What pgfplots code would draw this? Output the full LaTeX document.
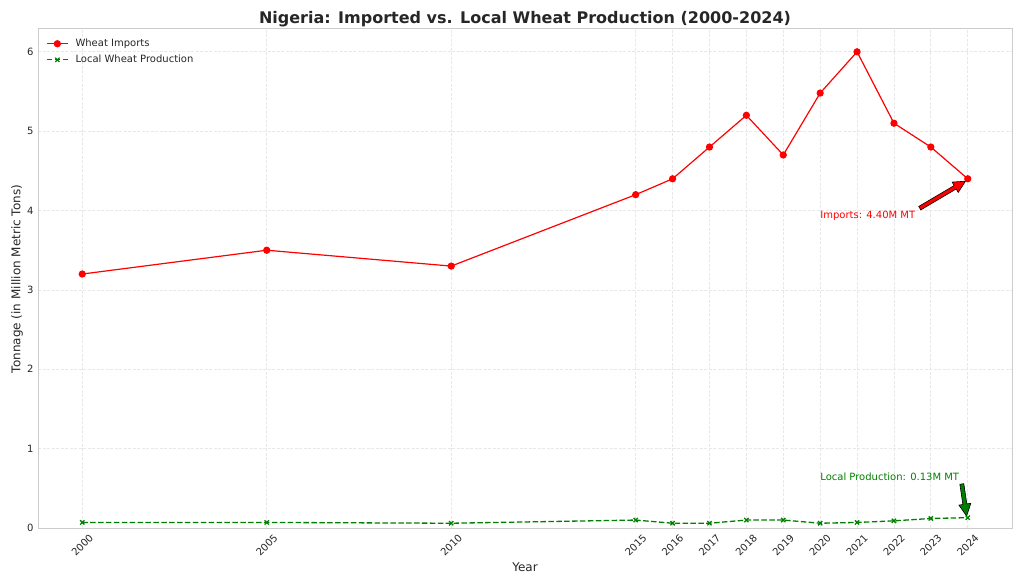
\documentclass[border=0pt]{standalone}
\usepackage{pgfplots}
\pgfplotsset{compat=1.18}
\usepackage{fontspec}
\setmainfont{DejaVu Sans}
\usetikzlibrary{arrows.meta,calc}
\definecolor{txt}{HTML}{262626}
\definecolor{gridc}{HTML}{E8E8E8}
\definecolor{framec}{HTML}{CCCCCC}
\definecolor{lgreen}{HTML}{008000}

\pgfplotstableread{
year imp loc
2000 3.20 0.07
2005 3.50 0.07
2010 3.30 0.06
2015 4.20 0.10
2016 4.40 0.06
2017 4.80 0.06
2018 5.20 0.10
2019 4.70 0.10
2020 5.48 0.06
2021 6.00 0.07
2022 5.10 0.09
2023 4.80 0.12
2024 4.40 0.13
}\datatab

\begin{document}
\begin{tikzpicture}[x=1pt,y=1pt]
\path (0,0) rectangle (1024,585);
\begin{axis}[
  at={(38pt,57pt)}, anchor=south west,
  scale only axis, width=974pt, height=500pt,
  xmin=1998.8, xmax=2025.2, ymin=0, ymax=6.3,
  xtick={2000,2005,2010,2015,2016,2017,2018,2019,2020,2021,2022,2023,2024},
  ytick={0,1,2,3,4,5,6},
  /pgf/number format/1000 sep={},
  /pgf/number format/assume math mode=true,
  major tick length=0pt,
  axis line style={framec, line width=0.8pt},
  grid=major,
  grid style={gridc, dash pattern=on 3pt off 1.5pt, line width=0.8pt},
  ticklabel style={font=\fontsize{10}{12}\selectfont, text=txt},
  xticklabel style={rotate=45, anchor=center, xshift=-12pt, yshift=-12pt},
  yticklabel style={anchor=east, xshift=-1pt},
  legend style={at={(axis description cs:0,1)}, anchor=north west,
    xshift=5pt, yshift=-7pt, draw=none, fill=none,
    font=\fontsize{10}{12}\selectfont, text=txt, row sep=3pt, column sep=5pt},
  legend cell align=left,
  legend image code/.code={
    \draw[mark repeat=2, mark phase=2, #1] plot coordinates {(0pt,0pt) (10.5pt,0pt) (21pt,0pt)};
  },
]
\addplot[red, line width=1.2pt, mark=*, mark size=3pt, mark options={solid, fill=red}]
  table[x=year, y=imp] {\datatab};
\addlegendentry{Wheat Imports}
\addplot[lgreen, line width=1.3pt, dash pattern=on 5.5pt off 2.4pt, mark=x, mark size=3pt, mark options={solid}]
  table[x=year, y=loc] {\datatab};
\addlegendentry{Local Wheat Production}

\node[anchor=base west, inner xsep=0pt, text=red, font=\fontsize{10}{12}\selectfont] at (axis cs:2020,3.9) {Imports: 4.40M MT};
\node[anchor=base west, inner xsep=0pt, text=lgreen, font=\fontsize{10}{12}\selectfont] at (axis cs:2020,0.6) {Local Production: 0.13M MT};

% red arrow
\coordinate (rA) at (axis cs:2022.70,4.03);
\coordinate (rB) at (axis cs:2023.94,4.37);
\coordinate (rH) at ($(rB)!12pt!(rA)$);
\fill[red, draw=black, line width=0.6pt]
  ($(rA)!2pt!90:(rB)$) -- ($(rH)!2pt!-90:(rA)$) -- ($(rH)!6pt!-90:(rA)$) -- (rB)
  -- ($(rH)!6pt!90:(rA)$) -- ($(rH)!2pt!90:(rA)$) -- ($(rA)!2pt!-90:(rB)$) -- cycle;
% green arrow
\coordinate (gA) at (axis cs:2023.84,0.555);
\coordinate (gB) at (axis cs:2023.97,0.15);
\coordinate (gH) at ($(gB)!12pt!(gA)$);
\fill[lgreen, draw=black, line width=0.6pt]
  ($(gA)!2pt!90:(gB)$) -- ($(gH)!2pt!-90:(gA)$) -- ($(gH)!6pt!-90:(gA)$) -- (gB)
  -- ($(gH)!6pt!90:(gA)$) -- ($(gH)!2pt!90:(gA)$) -- ($(gA)!2pt!-90:(gB)$) -- cycle;
\end{axis}
\node[anchor=base, text=txt, font=\fontsize{16}{19}\selectfont\bfseries] at (525,561) {Nigeria: Imported vs. Local Wheat Production (2000-2024)};
\node[anchor=center, text=txt, font=\fontsize{12}{14}\selectfont] at (525,18) {Year};
\node[anchor=center, rotate=90, text=txt, font=\fontsize{12}{14}\selectfont] at (17,306) {Tonnage (in Million Metric Tons)};
\end{tikzpicture}
\end{document}
